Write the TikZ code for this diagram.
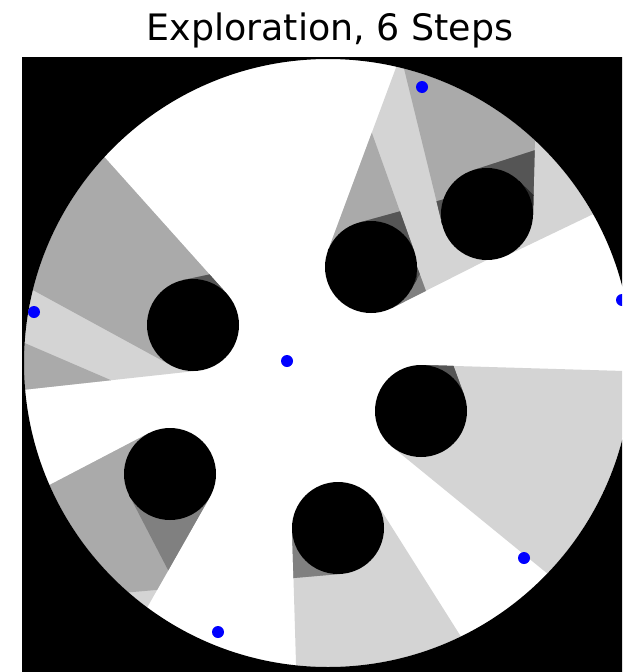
\documentclass[tikz,border=0pt]{standalone}
\usepackage{fontspec}
\setmainfont{DejaVu Sans}
\usetikzlibrary{calc}
\definecolor{seenB}{gray}{0.833}
\definecolor{seenC}{gray}{0.667}
\definecolor{seenD}{gray}{0.5}
\definecolor{seenE}{gray}{0.333}
\definecolor{seenF}{gray}{0.167}
\definecolor{poseBlue}{HTML}{0000FF}
\newcommand\rockrad{46}
\newcommand\rocklist{193/325,371/267,487/214,421/411,170/474,338/528}
% shadow wedges of all rocks, seen from the pose #1,#2 (pixel units)
\newcommand\shadowsfrom[2]{\foreach \ox/\oy in \rocklist {let \n1={atan2(\oy-#2,\ox-#1)}, \n2={asin(\rockrad/veclen(\ox-#1,\oy-#2))}, \n3={veclen(\ox-#1,\oy-#2)*cos(\n2)} in ({#1+\n3*cos(\n1+\n2)},{#2+\n3*sin(\n1+\n2)}) -- ({#1+900*cos(\n1+\n2)},{#2+900*sin(\n1+\n2)}) -- ({#1+900*cos(\n1-\n2)},{#2+900*sin(\n1-\n2)}) -- ({#1+\n3*cos(\n1-\n2)},{#2+\n3*sin(\n1-\n2)}) -- cycle}}

\begin{document}
\begin{tikzpicture}[x=1pt,y=-1pt]
\tikzstyle{pose}=[circle,fill=poseBlue,inner sep=0pt,minimum size=12pt]
\useasboundingbox (0,0) rectangle (622,672);
\clip (0,0) rectangle (622,672);
\coordinate (arena) at (328,363);
% seen area, step by step
\begin{scope}
\clip (arena) circle (304);
\fill[white] (arena) circle (304);
\begin{scope}
\clip \shadowsfrom{287}{361};
\fill[seenB] (arena) circle (304);
\begin{scope}
\clip \shadowsfrom{524}{558};
\fill[seenC] (arena) circle (304);
\begin{scope}
\clip \shadowsfrom{34}{312};
\fill[seenD] (arena) circle (304);
\begin{scope}
\clip \shadowsfrom{218}{632};
\fill[seenE] (arena) circle (304);
\begin{scope}
\clip \shadowsfrom{422}{87};
\fill[seenF] (arena) circle (304);
\begin{scope}
\clip \shadowsfrom{622}{300};
\fill[black] (arena) circle (304);
\end{scope}
\end{scope}
\end{scope}
\end{scope}
\end{scope}
\end{scope}
\end{scope}
% rocks and outside
\foreach \ox/\oy [count=\i] in \rocklist {\coordinate (rock\i) at (\ox,\oy); \fill[black] (rock\i) circle (\rockrad);}
\fill[black,even odd rule] (22,57) rectangle (640,690) (arena) circle (304);
% poses
\node[pose] (pose1) at (287,361) {};
\node[pose] (pose2) at (524,558) {};
\node[pose] (pose3) at (34,312) {};
\node[pose] (pose4) at (218,632) {};
\node[pose] (pose5) at (422,87) {};
\node[pose] (pose6) at (622,300) {};
\node[anchor=base,font=\fontsize{36.4}{40}\selectfont] (title) at (330,40) {Exploration, 6 Steps};
\end{tikzpicture}
\end{document}
